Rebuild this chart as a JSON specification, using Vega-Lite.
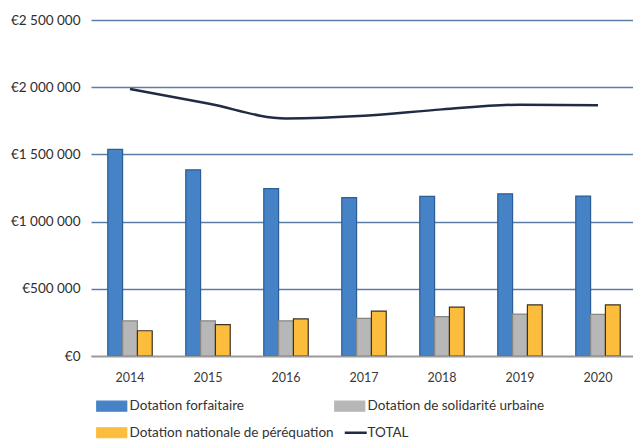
{
  "$schema": "https://vega.github.io/schema/vega-lite/v6.json",
  "autosize": {"type": "none"},
  "width": 546,
  "height": 336,
  "padding": {"left": 91, "top": 20, "right": 0, "bottom": 83},
  "background": "#ffffff",
  "datasets": {
    "dotations": [
      {"annee": "2014", "serie": "Dotation forfaitaire", "montant": 1537000},
      {"annee": "2014", "serie": "Dotation de solidarité urbaine", "montant": 261000},
      {"annee": "2014", "serie": "Dotation nationale de péréquation", "montant": 188000},
      {"annee": "2015", "serie": "Dotation forfaitaire", "montant": 1385000},
      {"annee": "2015", "serie": "Dotation de solidarité urbaine", "montant": 262000},
      {"annee": "2015", "serie": "Dotation nationale de péréquation", "montant": 233000},
      {"annee": "2016", "serie": "Dotation forfaitaire", "montant": 1246000},
      {"annee": "2016", "serie": "Dotation de solidarité urbaine", "montant": 262000},
      {"annee": "2016", "serie": "Dotation nationale de péréquation", "montant": 276000},
      {"annee": "2017", "serie": "Dotation forfaitaire", "montant": 1178000},
      {"annee": "2017", "serie": "Dotation de solidarité urbaine", "montant": 280000},
      {"annee": "2017", "serie": "Dotation nationale de péréquation", "montant": 334000},
      {"annee": "2018", "serie": "Dotation forfaitaire", "montant": 1187000},
      {"annee": "2018", "serie": "Dotation de solidarité urbaine", "montant": 293000},
      {"annee": "2018", "serie": "Dotation nationale de péréquation", "montant": 364000},
      {"annee": "2019", "serie": "Dotation forfaitaire", "montant": 1207000},
      {"annee": "2019", "serie": "Dotation de solidarité urbaine", "montant": 311000},
      {"annee": "2019", "serie": "Dotation nationale de péréquation", "montant": 381000},
      {"annee": "2020", "serie": "Dotation forfaitaire", "montant": 1190000},
      {"annee": "2020", "serie": "Dotation de solidarité urbaine", "montant": 310000},
      {"annee": "2020", "serie": "Dotation nationale de péréquation", "montant": 381000}
    ],
    "total": [
      {"annee": "2014", "serie": "TOTAL", "montant": 1987000},
      {"annee": "2015", "serie": "TOTAL", "montant": 1878000},
      {"annee": "2016", "serie": "TOTAL", "montant": 1768000},
      {"annee": "2017", "serie": "TOTAL", "montant": 1787000},
      {"annee": "2018", "serie": "TOTAL", "montant": 1835000},
      {"annee": "2019", "serie": "TOTAL", "montant": 1870000},
      {"annee": "2020", "serie": "TOTAL", "montant": 1866000}
    ]
  },
  "encoding": {
    "x": {
      "field": "annee",
      "type": "nominal",
      "sort": null,
      "scale": {"paddingInner": 0.43, "paddingOuter": 0.215},
      "axis": {
        "title": null,
        "labelAngle": 0,
        "ticks": false,
        "domain": true,
        "domainColor": "#9a9a9a",
        "domainWidth": 1.5,
        "labelPadding": 15,
        "labelFont": "Lato",
        "labelFontSize": 12.5,
        "labelColor": "#3a3a3a",
        "zindex": 1
      }
    },
    "y": {
      "field": "montant",
      "type": "quantitative",
      "scale": {"domain": [0, 2500000], "nice": false},
      "axis": {
        "title": null,
        "values": [0, 500000, 1000000, 1500000, 2000000, 2500000],
        "domain": false,
        "ticks": false,
        "grid": true,
        "gridColor": "#5b7ea6",
        "gridWidth": 1.5,
        "labelPadding": 11,
        "labelFont": "Lato",
        "labelFontSize": 13.5,
        "labelColor": "#2e2e2e",
        "labelExpr": "'€' + replace(replace(format(datum.value, ','), ',', ' '), ',', ' ')"
      }
    }
  },
  "layer": [
    {
      "data": {"name": "dotations"},
      "mark": {"type": "bar", "strokeWidth": 1.2},
      "encoding": {
        "xOffset": {
          "field": "serie",
          "type": "nominal",
          "sort": ["Dotation forfaitaire", "Dotation de solidarité urbaine", "Dotation nationale de péréquation"],
          "scale": {"paddingInner": 0, "paddingOuter": 0}
        },
        "color": {
          "field": "serie",
          "type": "nominal",
          "scale": {
            "domain": ["Dotation forfaitaire", "Dotation de solidarité urbaine", "Dotation nationale de péréquation", "TOTAL"],
            "range": ["#4682c6", "#b7b7b7", "#fcbc3c", "#1f2c44"]
          },
          "legend": {
            "orient": "none",
            "legendX": 14,
            "legendY": 379,
            "direction": "horizontal",
            "columns": 2,
            "title": null,
            "padding": 0,
            "symbolSize": 400,
            "symbolType": "M-1.5,-0.5H1.5V0.5H-1.5Z",
            "symbolStrokeWidth": 1.2,
            "labelOffset": 11,
            "labelFont": "Lato",
            "labelFontSize": 13.5,
            "labelColor": "#333333",
            "labelLimit": 400,
            "rowPadding": 11,
            "columnPadding": -2,
            "encode": {
              "symbols": {
                "update": {
                  "shape": {"signal": "datum.value === 'TOTAL' ? 'M-0.5,0H1.7' : 'M-1.5,-0.5H1.5V0.5H-1.5Z'"},
                  "fill": {"signal": "datum.value === 'TOTAL' ? 'transparent' : datum.value === 'Dotation forfaitaire' ? '#4682c6' : datum.value === 'Dotation de solidarité urbaine' ? '#b7b7b7' : '#fcbc3c'"},
                  "stroke": {"signal": "datum.value === 'TOTAL' ? '#1f2c44' : datum.value === 'Dotation forfaitaire' ? '#2b5d96' : datum.value === 'Dotation de solidarité urbaine' ? '#3e4c63' : '#3d3322'"},
                  "strokeWidth": {"signal": "datum.value === 'TOTAL' ? 2.5 : 1.2"},
                  "opacity": {"value": 1},
                  "fillOpacity": {"value": 1},
                  "strokeOpacity": {"value": 1}
                }
              }
            }
          }
        },
        "stroke": {
          "field": "serie",
          "type": "nominal",
          "scale": {
            "domain": ["Dotation forfaitaire", "Dotation de solidarité urbaine", "Dotation nationale de péréquation"],
            "range": ["#2b5d96", "#858585", "#3d3322"]
          },
          "legend": null
        }
      }
    },
    {
      "data": {"name": "total"},
      "mark": {"type": "line", "strokeWidth": 2.5, "interpolate": "monotone"},
      "encoding": {
        "color": {"field": "serie", "type": "nominal"}
      }
    }
  ],
  "config": {
    "view": {"stroke": null},
    "font": "Lato"
  }
}
